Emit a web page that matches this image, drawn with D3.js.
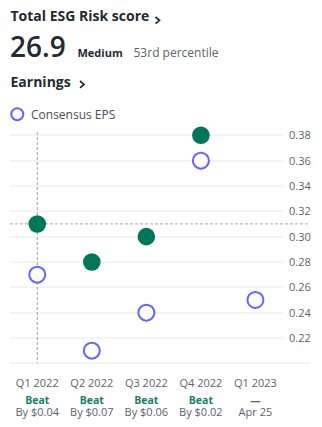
<!DOCTYPE html>
<html><head><meta charset="utf-8">
<script src="https://cdn.jsdelivr.net/npm/d3@7"></script>
<style>
html,body{margin:0;padding:0;background:#fff;}
svg{display:block;font-family:"Open Sans","Noto Sans",sans-serif;}
</style></head>
<body><svg id="c" width="322" height="427"></svg>
<script>
const quarters = ["Q1 2022","Q2 2022","Q3 2022","Q4 2022","Q1 2023"];
const actualEPS = [0.31, 0.28, 0.30, 0.38, null];
const consensusEPS = [0.27, 0.21, 0.24, 0.36, 0.25];
const resultLabels = ["Beat","Beat","Beat","Beat","—"];
const detailLabels = ["By $0.04","By $0.07","By $0.06","By $0.02","Apr 25"];
const yTicks = [0.22,0.24,0.26,0.28,0.30,0.32,0.34,0.36,0.38];
const esgScore = "26.9", esgLevel = "Medium", esgPercentile = "53rd percentile";

const svg = d3.select("#c");
const dark = "#232a31";

// Header
svg.append("text").attr("x",10.5).attr("y",21).attr("font-size",14).attr("font-weight",700).attr("fill",dark).text("Total ESG Risk score");
svg.append("path").attr("d","M155.5,17 l4,3.3 l-4,3.3").attr("fill","none").attr("stroke",dark).attr("stroke-width",1.7);
svg.append("text").attr("x",10).attr("y",57).attr("font-size",28).attr("font-weight",600).attr("fill",dark).text(esgScore);
svg.append("text").attr("x",77.5).attr("y",56.5).attr("font-size",11).attr("font-weight",700).attr("fill",dark).text(esgLevel);
svg.append("text").attr("x",133.5).attr("y",56.5).attr("font-size",12).attr("fill","#5b636a").text(esgPercentile);
svg.append("text").attr("x",10.5).attr("y",86.5).attr("font-size",14).attr("font-weight",700).attr("fill",dark).text("Earnings");
svg.append("path").attr("d","M80,81 l4,3.4 l-4,3.4").attr("fill","none").attr("stroke",dark).attr("stroke-width",1.7);

// Legend
svg.append("circle").attr("cx",17.3).attr("cy",114.3).attr("r",6).attr("fill","none").attr("stroke","#6363ff").attr("stroke-width",2);
svg.append("text").attr("x",31).attr("y",118.5).attr("font-size",12).attr("fill","#464e56").text("Consensus EPS");

// Scales
const x = d3.scaleBand().domain(quarters).range([10,282.7]);
const cx = q => x(q) + x.bandwidth()/2;
const y = d3.scaleLinear().domain([0.20,0.38]).range([363.3,135.3]);

// Grid
const yAxis = d3.axisRight(y).tickValues(yTicks).tickFormat(d3.format(".2f")).tickSize(0).tickPadding(0);
const ga = svg.append("g").attr("transform","translate(289,0)").call(yAxis);
ga.select(".domain").remove();
ga.selectAll("text").attr("font-size",11).attr("fill","#5b636a").attr("font-family","\"Open Sans\",sans-serif");
svg.append("g").selectAll("line").data(yTicks).join("line")
  .attr("x1",10).attr("x2",282.7).attr("y1",d=>y(d)).attr("y2",d=>y(d))
  .attr("stroke","#eef0f4").attr("stroke-width",1.5);
svg.append("line").attr("x1",10).attr("x2",310).attr("y1",y(0.20)).attr("y2",y(0.20))
  .attr("stroke","#eef0f4").attr("stroke-width",1.5);

// Crosshair on first actual point
svg.append("line").attr("x1",cx(quarters[0])).attr("x2",cx(quarters[0])).attr("y1",132).attr("y2",y(0.20))
  .attr("stroke","#9a9ea3").attr("stroke-width",1).attr("stroke-dasharray","3,2");
svg.append("line").attr("x1",10).attr("x2",308).attr("y1",y(actualEPS[0])).attr("y2",y(actualEPS[0]))
  .attr("stroke","#b5b9bd").attr("stroke-width",1.3).attr("stroke-dasharray","3,2");

// Points
svg.append("g").selectAll("circle").data(quarters.map((q,i)=>({q,v:consensusEPS[i]})).filter(d=>d.v!=null)).join("circle")
  .attr("cx",d=>cx(d.q)).attr("cy",d=>y(d.v)).attr("r",8).attr("fill","#fff").attr("stroke","#6363ff").attr("stroke-width",2);
svg.append("g").selectAll("circle").data(quarters.map((q,i)=>({q,v:actualEPS[i]})).filter(d=>d.v!=null)).join("circle")
  .attr("cx",d=>cx(d.q)).attr("cy",d=>y(d.v)).attr("r",8.8).attr("fill","#00765a");

// X labels
const xl = svg.append("g");
quarters.forEach((q,i)=>{
  xl.append("text").attr("x",cx(q)).attr("y",386.5).attr("text-anchor","middle").attr("font-size",11).attr("fill","#5b636a").text(q);
  xl.append("text").attr("x",cx(q)).attr("y",404).attr("text-anchor","middle").attr("font-size",10.5).attr("font-weight",700)
    .attr("fill", resultLabels[i]==="Beat" ? "#1a7c6a" : "#5b636a").text(resultLabels[i]);
  xl.append("text").attr("x",cx(q)).attr("y",416).attr("text-anchor","middle").attr("font-size",11).attr("fill","#5b636a").text(detailLabels[i]);
});
</script></body></html>
